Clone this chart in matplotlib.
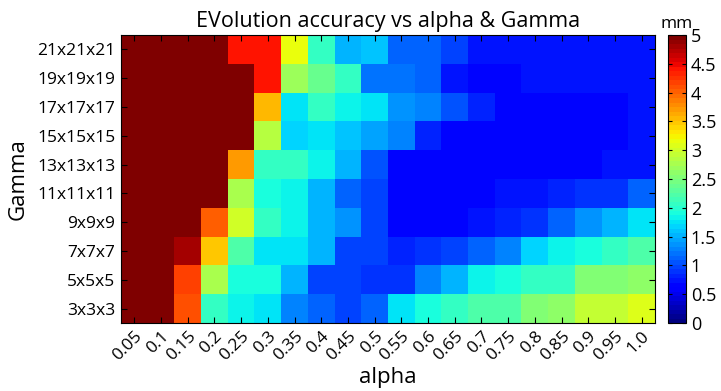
import numpy as np
import matplotlib
matplotlib.use('Agg')
import matplotlib.pyplot as plt

plt.rcParams['font.family'] = ['Open Sans', 'DejaVu Sans']

alpha = ['0.05', '0.1', '0.15', '0.2', '0.25', '0.3', '0.35', '0.4', '0.45', '0.5',
         '0.55', '0.6', '0.65', '0.7', '0.75', '0.8', '0.85', '0.9', '0.95', '1.0']
gamma = ['21x21x21', '19x19x19', '17x17x17', '15x15x15', '13x13x13',
         '11x11x11', '9x9x9', '7x7x7', '5x5x5', '3x3x3']

# error in mm, one row per Gamma (top to bottom)
g21 = [5, 5, 5, 5, 4.44, 4.42, 3.18, 2.1, 1.53, 1.58, 1.15, 1.1, 0.95, 0.78, 0.78, 0.78, 0.78, 0.78, 0.78, 0.78]
g19 = [5, 5, 5, 5, 5, 4.45, 2.72, 2.35, 2.05, 1.22, 1.2, 1.15, 0.78, 0.7, 0.7, 0.78, 0.78, 0.78, 0.78, 0.78]
g17 = [5, 5, 5, 5, 5, 3.54, 1.75, 2.1, 1.82, 1.72, 1.33, 1.25, 1.05, 0.83, 0.7, 0.7, 0.7, 0.7, 0.7, 0.78]
g15 = [5, 5, 5, 5, 5, 2.82, 1.69, 1.78, 1.6, 1.45, 1.25, 0.8, 0.7, 0.7, 0.7, 0.7, 0.7, 0.7, 0.7, 0.78]
g13 = [5, 5, 5, 5, 3.7, 2.05, 2.1, 1.8, 1.53, 1.05, 0.7, 0.7, 0.7, 0.7, 0.7, 0.7, 0.7, 0.7, 0.78, 0.78]
g11 = [5, 5, 5, 5, 2.8, 1.93, 1.82, 1.49, 1.15, 0.95, 0.67, 0.67, 0.67, 0.67, 0.75, 0.75, 0.82, 0.9, 0.88, 1.1]
g9 = [5, 5, 5, 4.06, 3.0, 2.1, 1.8, 1.49, 1.33, 0.95, 0.7, 0.7, 0.7, 0.78, 0.83, 0.9, 1.1, 1.35, 1.55, 1.78]
g7 = [5, 5, 4.82, 3.45, 2.23, 1.72, 1.78, 1.49, 1.0, 0.97, 0.82, 0.88, 0.95, 1.15, 1.3, 1.68, 1.8, 1.9, 2.05, 2.2]
g5 = [5, 5, 4.2, 2.8, 1.95, 1.9, 1.55, 1.0, 1.0, 0.92, 0.92, 1.3, 1.55, 1.82, 1.95, 2.05, 2.1, 2.5, 2.5, 2.6]
g3 = [5, 5, 4.13, 2.1, 1.82, 1.75, 1.25, 1.17, 1.0, 1.15, 1.78, 1.9, 2.1, 2.2, 2.2, 2.5, 2.6, 2.9, 2.95, 3.05]

data = np.array([g21, g19, g17, g15, g13, g11, g9, g7, g5, g3])

fig = plt.figure(figsize=(7.21, 3.91), dpi=100)
ax = fig.add_axes([121/721, 1 - 323/391, 534/721, 288/391])
cax = fig.add_axes([668/721, 1 - 323/391, 18/721, 288/391])

cmap = plt.get_cmap('jet', 64)
im = ax.imshow(data, cmap=cmap, vmin=0, vmax=5, aspect='auto', interpolation='nearest')

ax.set_xticks(np.arange(len(alpha)))
ax.set_xticklabels(alpha, rotation=45, ha='right', rotation_mode='anchor', fontsize=12.5)
ax.set_yticks(np.arange(len(gamma)))
ax.set_yticklabels(gamma, fontsize=12.5)
ax.tick_params(direction='in', top=True, right=True, length=4, width=0.8, pad=4)
ax.set_xlabel('alpha', fontsize=16, labelpad=2)
ax.set_ylabel('Gamma', fontsize=16, labelpad=6)
ax.set_title('EVolution accuracy vs alpha & Gamma', fontsize=15.5, pad=6)

cb = fig.colorbar(im, cax=cax)
cb.set_ticks(np.arange(0, 5.01, 0.5))
cb.set_ticklabels(['0', '0.5', '1', '1.5', '2', '2.5', '3', '3.5', '4', '4.5', '5'])
cax.tick_params(direction='in', left=True, right=True, length=3, labelsize=13)
cax.set_title('mm', fontsize=12.5, pad=5)

fig.savefig('out.png', dpi=100)
